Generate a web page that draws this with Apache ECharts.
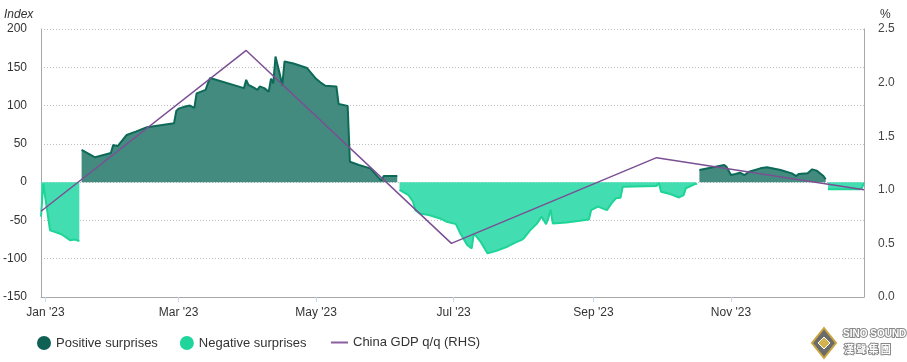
<!DOCTYPE html>
<html>
<head>
<meta charset="utf-8">
<script src="https://cdn.jsdelivr.net/npm/echarts@6/dist/echarts.min.js"></script>
<style>
html,body{margin:0;padding:0;background:#fff;}
#chart{width:907px;height:362px;}
</style>
</head>
<body>
<div id="chart"></div>
<script>
// ---- Data ----
const tickDates = ['2023-01-01','2023-03-01','2023-05-01','2023-07-01','2023-09-01','2023-11-01'];
const tickLabels = ["Jan '23","Mar '23","May '23","Jul '23","Sep '23","Nov '23"];
const leftTicks = [-150,-100,-50,0,50,100,150,200];
const rightTicks = ['0.0','0.5','1.0','1.5','2.0','2.5'];

const posSeg1 = [['2023-01-17',42],['2023-01-23',32.5],['2023-01-30',38],['2023-01-31',48.6],['2023-02-02',47],['2023-02-06',61.6],['2023-02-10',66],['2023-02-15',71.7],['2023-02-27',77],['2023-02-28',93],['2023-03-01',96],['2023-03-04',98.7],['2023-03-06',100],['2023-03-08',97],['2023-03-09',116],['2023-03-13',120.5],['2023-03-14',129],['2023-03-15',136],['2023-03-30',122.8],['2023-03-31',133.6],['2023-04-01',127],['2023-04-03',124],['2023-04-05',120.5],['2023-04-06',125],['2023-04-08',122.8],['2023-04-10',118],['2023-04-11',135],['2023-04-12',129],['2023-04-13',164],['2023-04-15',140],['2023-04-16',126],['2023-04-17',157.6],['2023-04-21',155],['2023-04-27',149],['2023-05-01',135],['2023-05-03',130],['2023-05-05',126],['2023-05-10',125],['2023-05-11',102],['2023-05-15',99.6],['2023-05-16',26.7],['2023-05-20',22.4],['2023-05-25',18],['2023-05-29',5],['2023-05-30',2],['2023-05-31',8],['2023-06-06',8]];
const posSeg2 = [['2023-10-18',15.8],['2023-10-29',22.4],['2023-10-30',20],['2023-11-01',9.3],['2023-11-03',10.6],['2023-11-05',12.3],['2023-11-07',9.3],['2023-11-09',13.6],['2023-11-14',18],['2023-11-17',19.4],['2023-11-23',15.8],['2023-11-28',11.5],['2023-11-30',8],['2023-12-01',10.6],['2023-12-05',11.5],['2023-12-07',16.7],['2023-12-09',15],['2023-12-12',8],['2023-12-13',3.7]];

const negSeg1 = [['2022-12-30',-45],['2022-12-31',-2],['2023-01-03',-63],['2023-01-05',-65],['2023-01-08',-68],['2023-01-10',-72],['2023-01-12',-76],['2023-01-14',-75],['2023-01-16',-77]];
const negSeg2 = [['2023-06-07',-10],['2023-06-11',-17],['2023-06-13',-25.6],['2023-06-14',-36.5],['2023-06-16',-41],['2023-06-20',-43],['2023-06-25',-47.4],['2023-06-28',-51.8],['2023-07-02',-54.8],['2023-07-04',-67],['2023-07-07',-82],['2023-07-09',-86.6],['2023-07-10',-67],['2023-07-13',-78],['2023-07-16',-93],['2023-07-20',-89.8],['2023-07-25',-84],['2023-07-29',-78],['2023-07-31',-75.8],['2023-08-01',-73.6],['2023-08-04',-62.7],['2023-08-07',-54],['2023-08-09',-45],['2023-08-11',-55],['2023-08-12',-47],['2023-08-13',-36],['2023-08-14',-54],['2023-08-20',-52.7],['2023-08-26',-50.5],['2023-08-30',-48.7],['2023-08-31',-36.5],['2023-09-03',-32],['2023-09-05',-34.3],['2023-09-07',-36.5],['2023-09-09',-27.7],['2023-09-11',-21],['2023-09-13',-20.4],['2023-09-14',-6],['2023-09-29',-5],['2023-09-30',-1],['2023-10-01',-12.5],['2023-10-05',-15.6],['2023-10-09',-20],['2023-10-11',-17],['2023-10-12',-8],['2023-10-16',-2.5],['2023-10-17',-2]];
const negSeg3 = [['2023-12-14',-9.4],['2023-12-20',-9.2],['2023-12-28',-9.4],['2023-12-29',-8],['2023-12-30',-1]];

const gdpDates = ['2022-12-30','2023-03-31','2023-06-30','2023-09-29','2023-12-30'];
const gdpValues = [0.8, 2.3, 0.5, 1.3, 1.0];

// ---- helpers ----
function ts(s){ const p = s.split('-').map(Number); return Date.UTC(p[0], p[1]-1, p[2]); }
function joinSegs(segs){
  const out = [];
  segs.forEach(function(seg, i){
    seg.forEach(function(pt){ out.push([ts(pt[0]), pt[1]]); });
    if (i < segs.length - 1) out.push([ts(seg[seg.length-1][0]) + 43200000, null]);
  });
  return out;
}
const tickVals = tickDates.map(ts);
const font = 'Liberation Sans, Arial, sans-serif';

const chart = echarts.init(document.getElementById('chart'));
chart.setOption({
  animation: false,
  grid: {left: 41, right: 43, top: 29, bottom: 65},
  legend: [
    {left: 37, top: 336, padding: 0, itemWidth: 14, itemHeight: 14, itemGap: 22, icon: 'circle',
     textStyle: {fontSize: 13, color: '#333', fontFamily: font},
     data: [{name: 'Positive surprises', itemStyle: {color: '#0f6253'}},
            {name: 'Negative surprises', itemStyle: {color: '#1fd59b'}}]},
    {left: 331, top: 336, padding: 0, itemWidth: 17, itemHeight: 14, icon: 'path://M0,6 L17,6 L17,8 L0,8 Z',
     textStyle: {fontSize: 13, color: '#333', fontFamily: font},
     data: [{name: 'China GDP q/q (RHS)', itemStyle: {color: '#8a5fa0'}}]}
  ],
  xAxis: {
    type: 'value', min: ts('2022-12-30'), max: ts('2023-12-30'), scale: true,
    axisLine: {show: true, onZero: false, lineStyle: {color: '#a8a8a8'}},
    axisTick: {show: true, customValues: tickVals, length: 5, lineStyle: {color: '#ccd6eb'}},
    axisLabel: {customValues: tickVals, color: '#333', fontSize: 12, fontFamily: font, margin: 10,
      formatter: function(v){ const i = tickVals.indexOf(v); return i >= 0 ? tickLabels[i] : ''; }},
    splitLine: {show: false}
  },
  yAxis: [
    {type: 'value', min: leftTicks[0], max: leftTicks[leftTicks.length-1], interval: 50, position: 'left',
     axisLine: {show: true, lineStyle: {color: '#a8a8a8'}}, axisTick: {show: false},
     axisLabel: {color: '#333', fontSize: 12, fontFamily: font, margin: 14},
     splitLine: {show: true, lineStyle: {color: '#bdbdbd', type: [1, 2]}}},
    {type: 'value', min: 0, max: 2.5, interval: 0.5, position: 'right',
     axisLine: {show: true, lineStyle: {color: '#a8a8a8'}}, axisTick: {show: false},
     axisLabel: {color: '#444', fontSize: 12, fontFamily: font, margin: 14,
       formatter: function(v){ return rightTicks[Math.round(v / 0.5)]; }},
     splitLine: {show: false}}
  ],
  series: [
    {name: 'Positive surprises', type: 'line', yAxisIndex: 0, data: joinSegs([posSeg1, posSeg2]),
     showSymbol: false, symbol: 'none', connectNulls: false,
     lineStyle: {color: '#0d6a58', width: 2}, itemStyle: {color: '#0f6253'},
     areaStyle: {color: '#438b7f', opacity: 1}, z: 2},
    {name: 'Negative surprises', type: 'line', yAxisIndex: 0, data: joinSegs([negSeg1, negSeg2, negSeg3]),
     showSymbol: false, symbol: 'none', connectNulls: false,
     lineStyle: {color: '#1ed496', width: 2}, itemStyle: {color: '#1fd59b'},
     areaStyle: {color: '#42ddb1', opacity: 1}, z: 2},
    {name: 'China GDP q/q (RHS)', type: 'line', yAxisIndex: 1,
     data: gdpDates.map(function(d, i){ return [ts(d), gdpValues[i]]; }),
     showSymbol: false, symbol: 'none', lineStyle: {color: '#7b4f94', width: 1.5},
     itemStyle: {color: '#8a5fa0'}, z: 4}
  ],
  graphic: [
    {type: 'text', left: 4, top: 9, style: {text: 'Index', font: 'italic 12px ' + font, fill: '#333'}},
    {type: 'text', left: 880, top: 9, style: {text: '%', font: '12px ' + font, fill: '#333'}},
    {type: 'polygon', shape: {points: [[824, 328], [836, 343], [824, 358], [812, 343]]},
     style: {fill: '#6b6b6b', stroke: '#c9a640', lineWidth: 2}},
    {type: 'polygon', shape: {points: [[824, 337], [830, 343], [824, 349], [818, 343]]},
     style: {fill: '#d4b24c', stroke: '#fff', lineWidth: 1}},
    {type: 'text', left: 842, top: 328, style: {text: 'SINO SOUND', font: 'bold 10px ' + font, fill: '#fff', stroke: '#8a8a8a', lineWidth: 2}},
    {type: 'text', left: 843, top: 343, style: {text: '漢 聲 集 團', font: 'bold 10px Noto Sans CJK TC', fill: '#fff', stroke: '#8a8a8a', lineWidth: 2}}
  ]
});
</script>
</body>
</html>
